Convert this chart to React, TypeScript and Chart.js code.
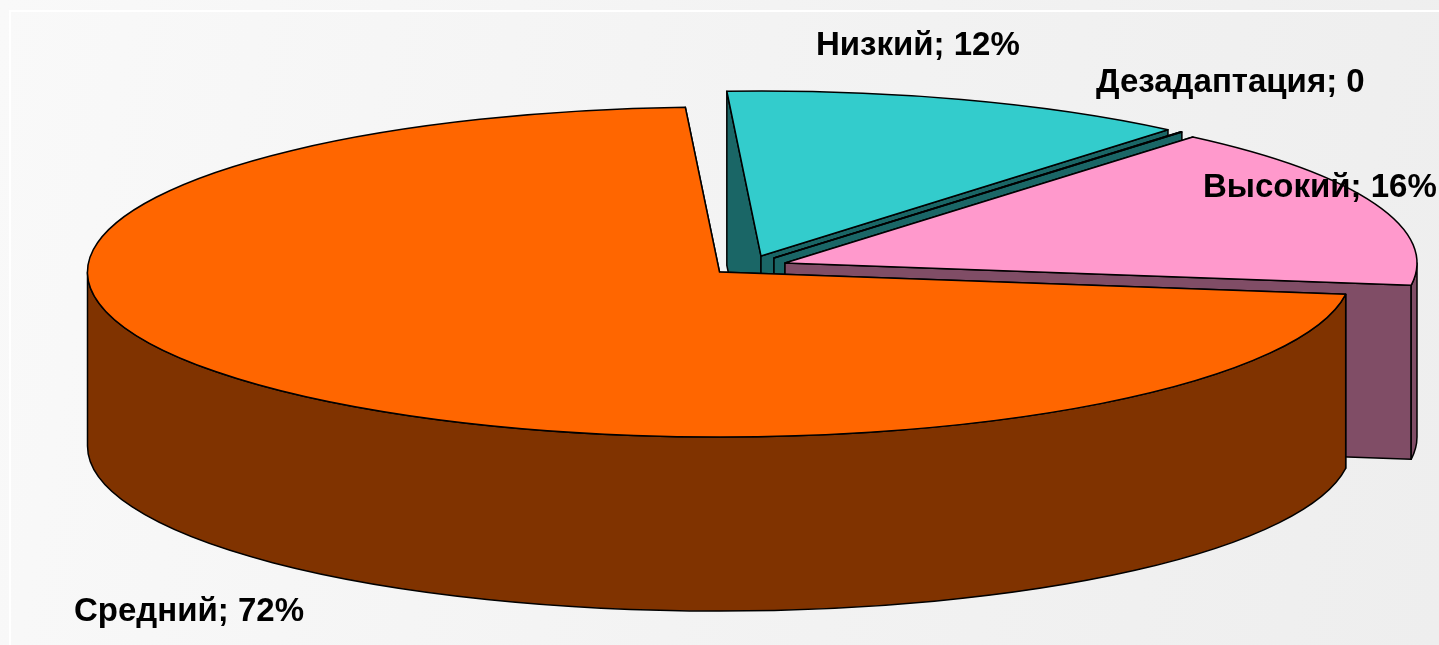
import React, { useEffect, useRef } from "react";
import { Chart, registerables } from "chart.js";

Chart.register(...registerables);

const categories = ["Низкий", "Дезадаптация", "Высокий", "Средний"];
const shares = [12, 0.03, 16, 72];
const shownValues = ["12%", "0", "16%", "72%"];

const topColors = ["#33CCCC", "#33CCCC", "#FF99CC", "#FF6600"];
const sideColors = ["#1A6666", "#1A6666", "#804D66", "#803300"];

const explode = [
  { x: 41.5, y: -16 },
  { x: 54.5, y: -14 },
  { x: 65.5, y: -9 },
  { x: 0, y: 0 },
];
const labelAnchors = [
  { x: 816, y: 55 },
  { x: 1096, y: 92 },
  { x: 1203, y: 197 },
  { x: 74, y: 621 },
];

const SQUASH = 165 / 632;
const DEPTH = 174;

const pie3d = {
  id: "pie3d",
  beforeDatasetsDraw(chart: any) {
    const ctx = chart.ctx as CanvasRenderingContext2D;
    const arcs = chart.getDatasetMeta(0).data;
    ctx.save();
    ctx.lineWidth = 1.5;
    ctx.strokeStyle = "#000";
    ctx.lineJoin = "round";
    arcs.forEach((el: any, i: number) => {
      const { x, y, startAngle: a, endAngle: b, outerRadius: r } = el.getProps([
        "x",
        "y",
        "startAngle",
        "endAngle",
        "outerRadius",
      ]);
      const cx = x + explode[i].x;
      const cy = y + explode[i].y;
      const ry = r * SQUASH;
      const px = (t: number) => cx + r * Math.cos(t);
      const py = (t: number) => cy + ry * Math.sin(t);

      const face = (t: number) => {
        ctx.beginPath();
        ctx.moveTo(cx, cy);
        ctx.lineTo(px(t), py(t));
        ctx.lineTo(px(t), py(t) + DEPTH);
        ctx.lineTo(cx, cy + DEPTH);
        ctx.closePath();
        ctx.fillStyle = sideColors[i];
        ctx.fill();
        ctx.stroke();
      };
      face(a);
      face(b);

      const wa = Math.max(a, 0);
      const wb = Math.min(b, Math.PI);
      if (wb > wa) {
        ctx.beginPath();
        ctx.ellipse(cx, cy, r, ry, 0, wa, wb);
        ctx.ellipse(cx, cy + DEPTH, r, ry, 0, wb, wa, true);
        ctx.closePath();
        ctx.fillStyle = sideColors[i];
        ctx.fill();
        ctx.stroke();
      }

      ctx.beginPath();
      ctx.moveTo(cx, cy);
      ctx.ellipse(cx, cy, r, ry, 0, a, b);
      ctx.closePath();
      ctx.fillStyle = topColors[i];
      ctx.fill();
      ctx.stroke();
    });
    ctx.restore();
    return false;
  },
  afterDraw(chart: any) {
    const ctx = chart.ctx as CanvasRenderingContext2D;
    ctx.save();
    ctx.font = 'bold 33px "Liberation Sans", Arial, sans-serif';
    ctx.fillStyle = "#000";
    ctx.textAlign = "left";
    ctx.textBaseline = "alphabetic";
    categories.forEach((name, i) => {
      ctx.fillText(`${name}; ${shownValues[i]}`, labelAnchors[i].x, labelAnchors[i].y);
    });
    ctx.restore();
  },
};

export default function App() {
  const ref = useRef<HTMLCanvasElement>(null);
  useEffect(() => {
    const chart = new Chart(ref.current as HTMLCanvasElement, {
      type: "pie",
      data: {
        labels: categories,
        datasets: [{ data: shares, backgroundColor: topColors, borderWidth: 0 }],
      },
      options: {
        responsive: false,
        animation: false,
        rotation: -3.1,
        radius: 632,
        layout: { padding: { bottom: 101 } },
        plugins: { legend: { display: false }, tooltip: { enabled: false } },
      } as any,
      plugins: [pie3d as any],
    });
    return () => chart.destroy();
  }, []);
  return (
    <div
      style={{
        position: "fixed",
        left: 0,
        top: 0,
        width: 1439,
        height: 645,
        overflow: "hidden",
        background: "linear-gradient(100deg, #f9f9f9 0%, #f3f3f3 50%, #eeeeee 100%)",
      }}
    >
      <div
        style={{
          position: "absolute",
          left: 9,
          top: 10,
          right: 0,
          bottom: 0,
          borderLeft: "2px solid #ffffff",
          borderTop: "2px solid #ffffff",
        }}
      />
      <canvas
        ref={ref}
        width={1439}
        height={645}
        style={{ position: "absolute", left: 0, top: 0, display: "block" }}
      />
    </div>
  );
}
